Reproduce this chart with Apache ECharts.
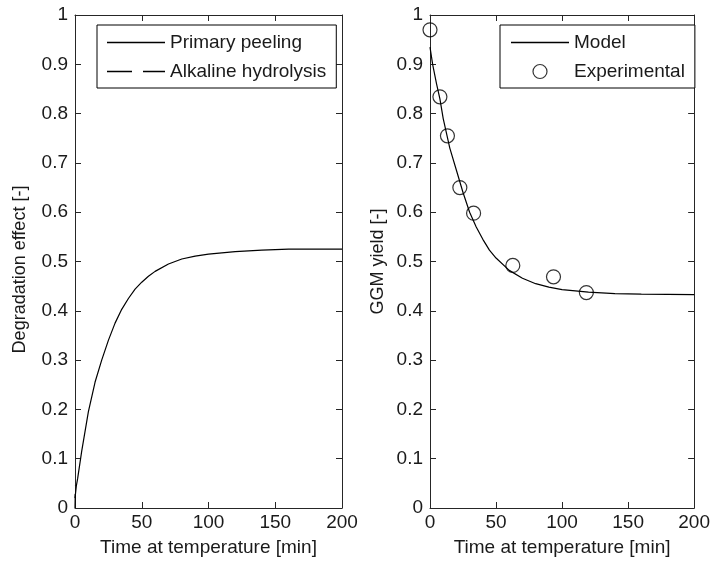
<!DOCTYPE html>
<html>
<head>
<meta charset="utf-8">
<script src="https://cdn.jsdelivr.net/npm/echarts@6/dist/echarts.min.js"></script>
<style>html,body{margin:0;padding:0;background:#fff}#c{width:713px;height:563px}</style>
</head>
<body>
<div id="c"></div>
<script>
// ---- data ----
const xTicks = [0, 50, 100, 150, 200];
const yTicks = [0, 0.1, 0.2, 0.3, 0.4, 0.5, 0.6, 0.7, 0.8, 0.9, 1];

// Left panel: Degradation effect
const peelTime = [0, 1, 2, 5, 10, 15, 20, 25, 30, 35, 40, 45, 50, 55, 60, 70, 80, 90, 100, 120, 140, 160, 180, 200];
const peelValue = [0.02, 0.045, 0.06, 0.115, 0.195, 0.255, 0.30, 0.34, 0.375, 0.403, 0.425, 0.444, 0.458, 0.470, 0.480, 0.495, 0.505, 0.511, 0.515, 0.520, 0.523, 0.525, 0.525, 0.525];
const hydroTime = [0, 0.3];
const hydroValue = [0, 0.045];

// Right panel: GGM yield
const modelTime = [0, 2, 5, 7.5, 10, 15, 20, 25, 30, 35, 40, 45, 50, 60, 70, 80, 90, 100, 120, 140, 160, 200];
const modelValue = [0.935, 0.90, 0.86, 0.83, 0.79, 0.73, 0.685, 0.64, 0.60, 0.57, 0.545, 0.523, 0.507, 0.482, 0.466, 0.455, 0.448, 0.443, 0.438, 0.435, 0.434, 0.433];
const expTime = [0, 7.5, 13.2, 22.6, 33, 62.7, 93.5, 118.4];
const expValue = [0.970, 0.834, 0.755, 0.650, 0.598, 0.492, 0.469, 0.437];

const zip = (a, b) => a.map((v, i) => [v, b[i]]);

const FONT = 'Liberation Sans';
const FS = 19;
const axisColor = '#262626';
const textColor = '#1a1a1a';

const solidIcon = 'path://M0,0h58v1.3h-58z';
const dashIcon = 'path://M0,0h25v1.3h-25z M36,0h22v1.3h-22z';

function xAx(grid, pos, showLabel, name) {
  return {
    type: 'value', gridIndex: grid, position: pos, min: 0, max: 200, interval: 50,
    axisLine: {show: true, onZero: false, lineStyle: {color: axisColor, width: 1}},
    axisTick: {show: true, inside: true, length: 6, lineStyle: {color: axisColor}},
    axisLabel: {show: showLabel, color: textColor, fontFamily: FONT, fontSize: FS, margin: 5},
    splitLine: {show: false},
    name: name || '', nameLocation: 'middle', nameGap: 30,
    nameTextStyle: {color: textColor, fontFamily: FONT, fontSize: FS}
  };
}
function yAx(grid, pos, showLabel, name, gap, pad) {
  return {
    type: 'value', gridIndex: grid, position: pos, min: 0, max: 1, interval: 0.1,
    axisLine: {show: true, onZero: false, lineStyle: {color: axisColor, width: 1}},
    axisTick: {show: true, inside: true, length: 6, lineStyle: {color: axisColor}},
    axisLabel: {show: showLabel, color: textColor, fontFamily: FONT, fontSize: FS, margin: 7,
      formatter: v => (Math.abs(v) < 1e-9 ? '0' : Math.abs(v - 1) < 1e-9 ? '1' : v.toFixed(1))},
    splitLine: {show: false},
    name: name || '', nameLocation: 'middle', nameGap: gap || 50, nameRotate: 90,
    nameTextStyle: {color: textColor, fontFamily: FONT, fontSize: 18, padding: pad || 0}
  };
}

const legendCommon = {
  top: 25, orient: 'vertical',
  backgroundColor: '#fff', borderColor: '#000', borderWidth: 1, borderRadius: 0,
  itemGap: 10, itemWidth: 58, itemHeight: 14,
  textStyle: {color: textColor, fontFamily: FONT, fontSize: FS, lineHeight: 18}
};

const chart = echarts.init(document.getElementById('c'), null, {renderer: 'canvas'});
chart.setOption({
  animation: false,
  backgroundColor: '#fff',
  grid: [
    {left: 75, right: 371, top: 15, bottom: 55},
    {left: 430, right: 15, top: 15, bottom: 55}
  ],
  xAxis: [
    xAx(0, 'bottom', true, 'Time at temperature [min]'),
    xAx(0, 'top', false),
    xAx(1, 'bottom', true, 'Time at temperature [min]'),
    xAx(1, 'top', false)
  ],
  yAxis: [
    yAx(0, 'left', true, 'Degradation effect [-]', 46, [0, 16, 0, 0]),
    yAx(0, 'right', false),
    yAx(1, 'left', true, 'GGM yield [-]', 43),
    yAx(1, 'right', false)
  ],
  legend: [
    Object.assign({}, legendCommon, {
      left: 97, padding: [8, 10, 7, 10],
      data: [
        {name: 'Primary peeling', icon: solidIcon, itemStyle: {color: '#000', borderWidth: 0}},
        {name: 'Alkaline hydrolysis', icon: dashIcon, itemStyle: {color: '#000', borderWidth: 0}}
      ]
    }),
    Object.assign({}, legendCommon, {
      left: 500, padding: [8, 10, 7, 11],
      data: [
        {name: 'Model', icon: solidIcon, itemStyle: {color: '#000', borderWidth: 0}},
        {name: 'Experimental', icon: 'circle', itemStyle: {color: '#fff', borderColor: '#000', borderWidth: 1.2}}
      ]
    })
  ],
  series: [
    {
      name: 'Primary peeling', type: 'line', xAxisIndex: 0, yAxisIndex: 0,
      data: zip(peelTime, peelValue), showSymbol: false, symbol: 'none', smooth: false,
      lineStyle: {color: '#000', width: 1.2}, itemStyle: {color: '#000'}
    },
    {
      name: 'Alkaline hydrolysis', type: 'line', xAxisIndex: 0, yAxisIndex: 0,
      data: zip(hydroTime, hydroValue), showSymbol: false, symbol: 'none',
      lineStyle: {color: '#000', width: 1.2, type: [14, 8]}, itemStyle: {color: '#000'}
    },
    {
      name: 'Model', type: 'line', xAxisIndex: 2, yAxisIndex: 2,
      data: zip(modelTime, modelValue), showSymbol: false, symbol: 'none', smooth: false,
      lineStyle: {color: '#000', width: 1.2}, itemStyle: {color: '#000'}
    },
    {
      name: 'Experimental', type: 'scatter', xAxisIndex: 2, yAxisIndex: 2,
      data: zip(expTime, expValue), symbol: 'circle', symbolSize: 14,
      itemStyle: {color: 'rgba(255,255,255,0)', borderColor: '#000', borderWidth: 1.2}, z: 5
    }
  ]
});
</script>
</body>
</html>
